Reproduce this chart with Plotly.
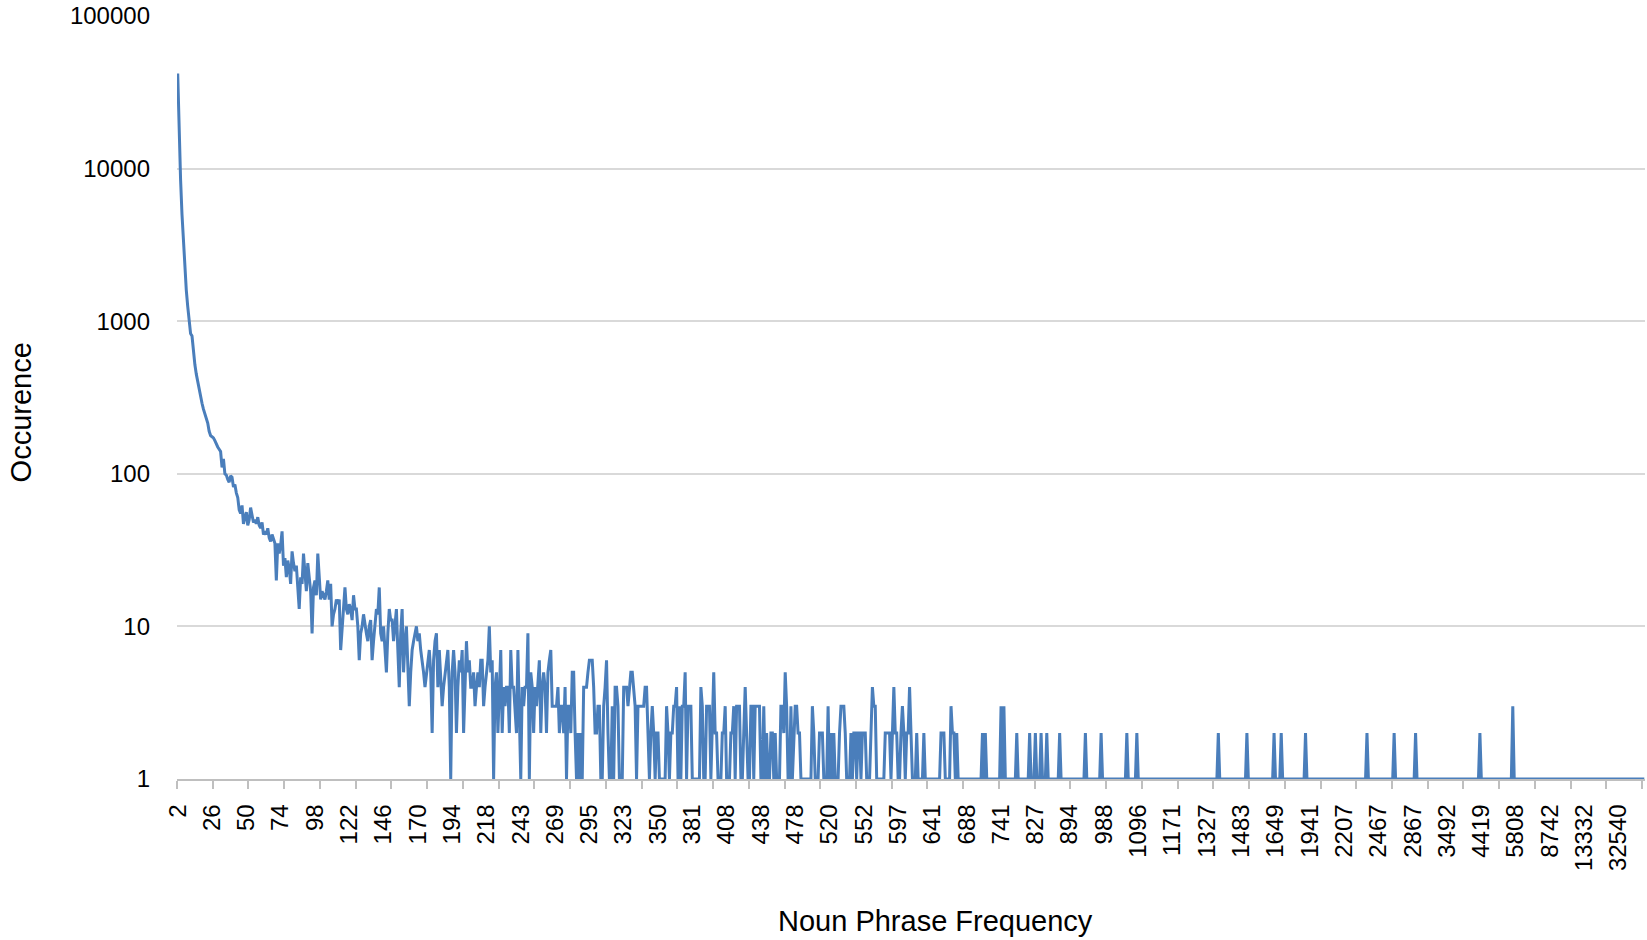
import plotly.graph_objects as go

# ---------------- data ----------------
freq_tick_labels = ["2", "26", "50", "74", "98", "122", "146", "170", "194", "218",
                    "243", "269", "295", "323", "350", "381", "408", "438", "478", "520",
                    "552", "597", "641", "688", "741", "827", "894", "988", "1096", "1171",
                    "1327", "1483", "1649", "1941", "2207", "2467", "2867", "3492", "4419",
                    "5808", "8742", "13332", "32540"]
label_step = 24          # one label every 24 categories
tick_mark_step = 25      # one tick mark every 25 categories
n_categories = 1027

y_tick_values = [1, 10, 100, 1000, 10000, 100000]

# occurrence per frequency category (categories 0..106)
head_counts = [42000, 15000, 8500, 5000, 3200, 2200, 1600, 1250, 1000, 830,
               800, 620, 520, 450, 400, 350, 320, 290, 265, 245,
               235, 215, 190, 178, 175, 172, 165, 155, 150, 145,
               140, 110, 125, 100, 98, 92, 88, 97, 95, 82,
               85, 75, 70, 58, 55, 62, 47, 52, 56, 46,
               50, 60, 52, 48, 50, 47, 52, 46, 44, 48,
               40, 42, 40, 44, 38, 36, 40, 37, 35, 20,
               35, 30, 34, 42, 25, 28, 21, 27, 24, 19,
               31, 26, 23, 25, 18, 13, 21, 19, 30, 22,
               17, 26, 20, 17, 9, 18, 20, 16, 30, 19,
               15, 17, 16, 15, 17, 20, 15]

# categories 107..229
mid_counts_a = [19, 10, 12, 13, 15, 14, 15, 7, 10, 14,
                18, 13, 12, 14, 13, 11, 16, 13, 13, 10,
                6, 9, 10, 12, 10, 9, 8, 10, 11, 6,
                8, 10, 13, 12, 18, 9, 8, 10, 7, 5,
                9, 13, 11, 11, 8, 10, 13, 7, 4, 9,
                13, 5, 8, 10, 6, 3, 5, 7, 8, 9,
                10, 8, 9, 7, 6, 5, 4, 5, 6, 7,
                5, 2, 6, 8, 9, 4, 7, 5, 3, 4,
                5, 6, 7, 4, 1, 5, 7, 5, 2, 4,
                6, 5, 7, 2, 5, 8, 5, 6, 4, 4,
                5, 3, 4, 5, 4, 6, 6, 3, 4, 5,
                6, 10, 5, 6, 1, 4, 5,
                2, 4, 7, 2, 4, 3]

# categories 230..351
mid_counts_b = [4, 4, 2, 7, 4, 4, 3, 2, 7, 3,
                1, 4, 3, 4, 4, 9, 1, 5, 4, 2,
                4, 3, 4, 6, 2, 4, 5, 4, 2, 5,
                6, 7, 3, 3, 3, 3, 4, 2, 3, 3,
                2, 4, 1, 3, 3, 2, 5, 5, 2, 1,
                2, 1, 2, 1, 4, 4, 4, 5, 6, 6,
                6, 4, 2, 2, 3, 3, 1, 1, 3, 4,
                6, 2, 1, 1, 3, 1, 4, 4, 3, 1,
                1, 1, 4, 4, 4, 3, 4, 5, 5, 4,
                3, 1, 3, 3, 3, 3, 3, 4, 4, 2,
                1, 2, 3, 2, 1, 2, 2, 1, 1, 1,
                1, 1, 3, 2, 1, 2, 2, 3, 3,
                4, 1, 3]

# categories 352..474
mid_counts_c = [1, 3, 3, 5, 1, 3, 3, 3, 1, 1,
                1, 1, 1, 1, 4, 3, 1, 1, 3, 3,
                3, 1, 2, 5, 2, 2, 1, 1, 1, 2,
                2, 3, 1, 1, 1, 2, 2, 3, 1, 3,
                3, 3, 1, 1, 2, 4, 2, 1, 1, 3,
                3, 1, 3, 3, 3, 3, 1, 1, 3, 1,
                2, 1, 1, 2, 2, 1, 2, 1, 1, 1,
                3, 3, 2, 5, 3, 1, 1, 3, 1, 2,
                3, 3, 2, 2, 1, 1, 1, 1, 1, 1,
                1, 1, 3, 2, 1, 1, 1, 2, 2, 2,
                1, 1, 1, 3, 1, 2, 1, 2, 1, 1,
                1, 2, 3, 3, 3, 2, 1, 1, 1, 2,
                1, 2, 2]

# categories 475..595
mid_counts_d = [1, 2, 2, 1, 2, 2, 2, 1, 1, 1,
                2, 4, 3, 3, 1, 1, 1, 1, 1, 1,
                2, 2, 2, 2, 1, 2, 4, 2, 2, 1,
                1, 2, 3, 2, 1, 2, 2, 4, 2, 1,
                1, 1, 2, 1, 1, 1, 1, 2, 1, 1,
                1, 1, 1, 1, 1, 1, 1, 1, 1, 2,
                2, 2, 1, 1, 1, 1, 3, 2, 2, 1,
                2, 1, 1, 1, 1, 1, 1, 1, 1, 1,
                1, 1, 1, 1, 1, 1, 1, 1, 2, 1,
                2, 1, 1, 1, 1, 1, 1, 1, 1, 1,
                1, 3, 1, 3, 1, 1, 1, 1, 1, 1,
                1, 1, 2, 1, 1, 1, 1, 1, 1, 1,
                1]

# categories 596..1026 are 1 except these
tail_spike_index = [596, 600, 604, 608, 617, 635, 646, 664, 671, 728,
                    748, 767, 772, 789, 832, 851, 866, 911, 934]
tail_spike_value = [2, 2, 2, 2, 2, 2, 2, 2, 2, 2,
                    2, 2, 2, 2, 2, 2, 2, 2, 3]

# ---------------- assemble ----------------
occurrence = head_counts + mid_counts_a + mid_counts_b + mid_counts_c + mid_counts_d
start_tail = len(occurrence)
tail = [1] * (n_categories - start_tail)
for idx, val in zip(tail_spike_index, tail_spike_value):
    tail[idx - start_tail] = val
occurrence = occurrence + tail
categories = list(range(len(occurrence)))

label_positions = [k * label_step for k in range(len(freq_tick_labels))]

TICK_FONT = dict(family="Liberation Sans, Arial, sans-serif", size=24, color="#000000")
TITLE_FONT = dict(family="Liberation Sans, Arial, sans-serif", size=29, color="#000000")

fig = go.Figure()
fig.add_trace(go.Scatter(
    x=categories, y=occurrence, mode="lines",
    line=dict(color="#4a7ebb", width=3),
    hoverinfo="x+y", showlegend=False,
))

fig.update_layout(
    width=1647, height=940,
    margin=dict(l=177, r=2, t=16, b=161),
    paper_bgcolor="white", plot_bgcolor="white",
    xaxis=dict(
        range=[-0.5, len(occurrence) - 0.5],
        tickmode="array", tickvals=label_positions, ticktext=freq_tick_labels,
        tickangle=-90, tickfont=TICK_FONT,
        ticks="", ticklabelstandoff=14,
        showgrid=False, zeroline=False,
        showline=True, linecolor="#bfbfbf", linewidth=1.5,
        minor=dict(tickmode="linear", tick0=-0.5, dtick=tick_mark_step,
                   ticks="outside", ticklen=8, tickwidth=1.5, tickcolor="#bfbfbf",
                   showgrid=False),
    ),
    yaxis=dict(
        type="log", range=[0, 5],
        tickmode="array", tickvals=y_tick_values,
        ticktext=[str(v) for v in y_tick_values],
        tickfont=TICK_FONT, ticks="", ticklabelstandoff=26,
        showgrid=True, gridcolor="#d9d9d9", gridwidth=1.5,
        zeroline=False, showline=False,
    ),
    annotations=[
        dict(text="Noun Phrase Frequency", xref="paper", yref="paper",
             x=0.5164, y=-0.186, xanchor="center", yanchor="middle",
             showarrow=False, font=TITLE_FONT),
        dict(text="Occurence", xref="paper", yref="paper",
             x=-0.106, y=0.481, xanchor="center", yanchor="middle",
             textangle=-90, showarrow=False, font=TITLE_FONT),
    ],
)

fig.write_html("out.html")
